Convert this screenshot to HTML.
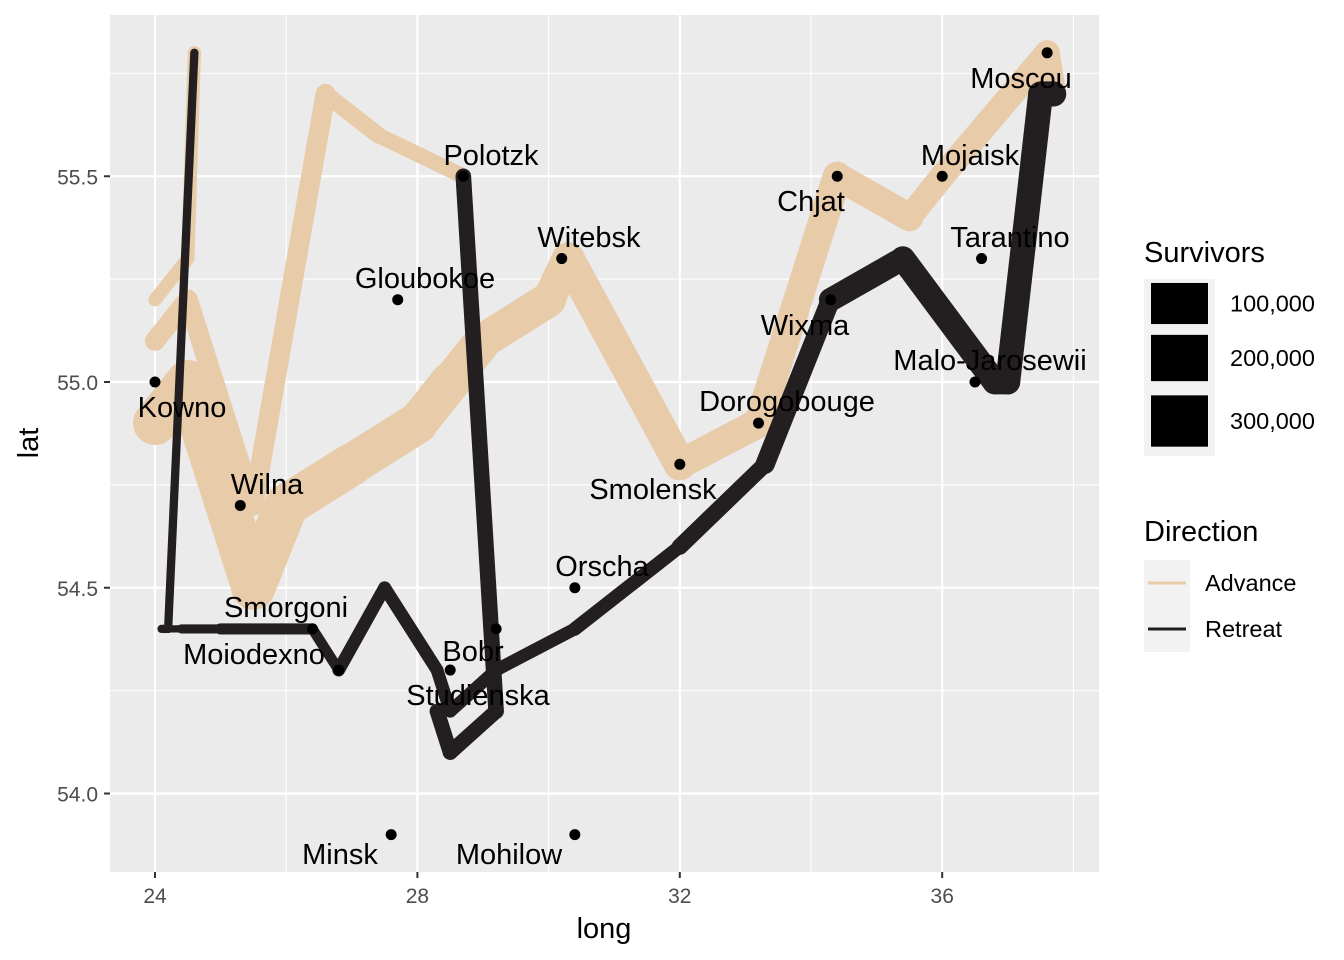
<!DOCTYPE html>
<html><head><meta charset="utf-8"><style>body{margin:0;background:#fff}svg{display:block;font-family:"Liberation Sans",sans-serif}</style></head>
<body>
<svg id="c" width="1344" height="960"></svg>
<script>
const longs=[24.0,24.5,25.5,26.0,27.0,28.0,28.5,29.0,30.0,30.3,32.0,33.2,34.4,35.5,36.0,37.6,37.7,37.5,37.0,36.8,35.4,34.3,33.3,32.0,30.4,29.2,28.5,28.3,27.5,26.8,26.4,25.0,24.4,24.2,24.1,
 24.0,24.5,25.5,26.6,27.4,28.7,28.7,29.2,28.5,28.3,
 24.0,24.5,24.6,24.6,24.2,24.1];
const lats=[54.9,55.0,54.5,54.7,54.8,54.9,55.0,55.1,55.2,55.3,54.8,54.9,55.5,55.4,55.5,55.8,55.7,55.7,55.0,55.0,55.3,55.2,54.8,54.6,54.4,54.3,54.2,54.3,54.5,54.3,54.4,54.4,54.4,54.4,54.4,
 55.1,55.2,54.7,55.7,55.6,55.5,55.5,54.2,54.1,54.2,
 55.2,55.3,55.8,55.8,54.4,54.4];
const survivors=[340000,340000,340000,320000,300000,280000,240000,210000,180000,175000,145000,140000,127100,100000,100000,100000,100000,98000,97000,96000,87000,55000,37000,24000,20000,20000,20000,20000,20000,12000,14000,8000,4000,4000,4000,
 60000,60000,60000,40000,33000,33000,33000,30000,30000,28000,
 22000,22000,6000,6000,6000,6000];
const directions=["A","A","A","A","A","A","A","A","A","A","A","A","A","A","A","A","R","R","R","R","R","R","R","R","R","R","R","R","R","R","R","R","R","R","R",
 "A","A","A","A","A","A","R","R","R","R","A","A","A","R","R","R"];
const groups=[1,1,1,1,1,1,1,1,1,1,1,1,1,1,1,1,1,1,1,1,1,1,1,1,1,1,1,1,1,1,1,1,1,1,1,2,2,2,2,2,2,2,2,2,2,3,3,3,3,3,3];
const cityNames=["Kowno","Wilna","Smorgoni","Moiodexno","Gloubokoe","Minsk","Studienska","Polotzk","Bobr","Witebsk","Orscha","Mohilow","Smolensk","Dorogobouge","Wixma","Chjat","Mojaisk","Moscou","Tarantino","Malo-Jarosewii"];
const cityLong=[24.0,25.3,26.4,26.8,27.7,27.6,28.5,28.7,29.2,30.2,30.4,30.4,32.0,33.2,34.3,34.4,36.0,37.6,36.6,36.5];
const cityLat=[55.0,54.7,54.4,54.3,55.2,53.9,54.3,55.5,54.4,55.3,54.5,53.9,54.8,54.9,55.2,55.5,55.5,55.8,55.3,55.0];
const labelX=[182,267,286,254,425,340,478,491,473,589,602,509,653,787,805,811,970,1021,1010,990];
const labelY=[407,484,607,654,278,854,695,155,651,237,566,854,489,401,325,201,155,78,237,360];
const xTicks=[24,28,32,36], yTicks=[54.0,54.5,55.0,55.5];
const sizeBreaks=[100000,200000,300000];

const NS="http://www.w3.org/2000/svg", svg=document.getElementById('c');
const L=110,R=1099,T=15,B=872;
const x=v=>155+(v-24)*65.6, y=v=>382-(v-55)*411.5;
const smin=Math.sqrt(4000), smax=Math.sqrt(340000);
const w=v=>(1+5*(Math.sqrt(v)-smin)/(smax-smin))*7.3;
const col={A:"#E8CBA9",R:"#231F20"};
function el(t,a,p){const e=document.createElementNS(NS,t);for(const k in a)e.setAttribute(k,a[k]);(p||svg).appendChild(e);return e;}
let r=el('rect',{x:L,y:T,width:R-L,height:B-T,fill:'#EBEBEB'});


[26,30,34,38].forEach(v=>el('line',{x1:x(v),x2:x(v),y1:T,y2:B,stroke:'#fff','stroke-width':1.1}));
[53.75,54.25,54.75,55.25,55.75].forEach(v=>el('line',{x1:L,x2:R,y1:y(v),y2:y(v),stroke:'#fff','stroke-width':1.1}));
xTicks.forEach(v=>{el('line',{x1:x(v),x2:x(v),y1:T,y2:B,stroke:'#fff','stroke-width':2.2});
 el('line',{x1:x(v),x2:x(v),y1:B,y2:B+6,stroke:'#333','stroke-width':2});
 const t=el('text',{x:x(v),y:B+31,'text-anchor':'middle','font-size':21,fill:'#4D4D4D'});t.textContent=v;
 
 });
yTicks.forEach(v=>{el('line',{x1:L-6,x2:L,y1:y(v),y2:y(v),stroke:'#333','stroke-width':2});
 el('line',{x1:L,x2:R,y1:y(v),y2:y(v),stroke:'#fff','stroke-width':2.2});
 const t=el('text',{x:L-12,y:y(v)+8,'text-anchor':'end','font-size':21,fill:'#4D4D4D'});t.textContent=v.toFixed(1);
 
 });
for(let i=0;i<longs.length-1;i++){
 if(groups[i]!==groups[i+1])continue;
 const s=el('line',{x1:x(longs[i]),y1:y(lats[i]),x2:x(longs[i+1]),y2:y(lats[i+1]),stroke:col[directions[i]],'stroke-width':w(survivors[i]),'stroke-linecap':'round'});
 
 
}
cityNames.forEach((n,i)=>{
 const c=el('circle',{cx:x(cityLong[i]),cy:y(cityLat[i]),r:5.5,fill:'#000'});
 
 
 const t=el('text',{x:labelX[i],y:labelY[i]+10,'text-anchor':'middle','font-size':29,fill:'#000'});t.textContent=n;
 
 
});
let t=el('text',{x:604,y:938,'text-anchor':'middle','font-size':29});t.textContent='long';

t=el('text',{x:38,y:443,'text-anchor':'middle','font-size':29,transform:'rotate(-90 38 443)'});t.textContent='lat';

t=el('text',{x:1144,y:262,'font-size':29});t.textContent='Survivors';

el('rect',{x:1144,y:279,width:71,height:177,fill:'#F2F2F2'});
const keyY=[303.5,358,421];
sizeBreaks.forEach((b,i)=>{const h=w(b)+ (i===0?16:i===1?12:10);
 const k=el('rect',{x:1151,y:keyY[i]-h/2,width:57,height:h,fill:'#000'});
 
 const lt=el('text',{x:1230,y:keyY[i]+8,'font-size':23.5});lt.textContent=b.toLocaleString('en-US');
 });
t=el('text',{x:1144,y:541,'font-size':29});t.textContent='Direction';

el('rect',{x:1144,y:560,width:46,height:92,fill:'#F2F2F2'});
[["Advance","A",583],["Retreat","R",629]].forEach(d=>{
 const k=el('line',{x1:1148,x2:1186,y1:d[2],y2:d[2],stroke:col[d[1]],'stroke-width':3});
 
 const lt=el('text',{x:1205,y:d[2]+8,'font-size':23.5});lt.textContent=d[0];
 });
</script>
</body></html>
